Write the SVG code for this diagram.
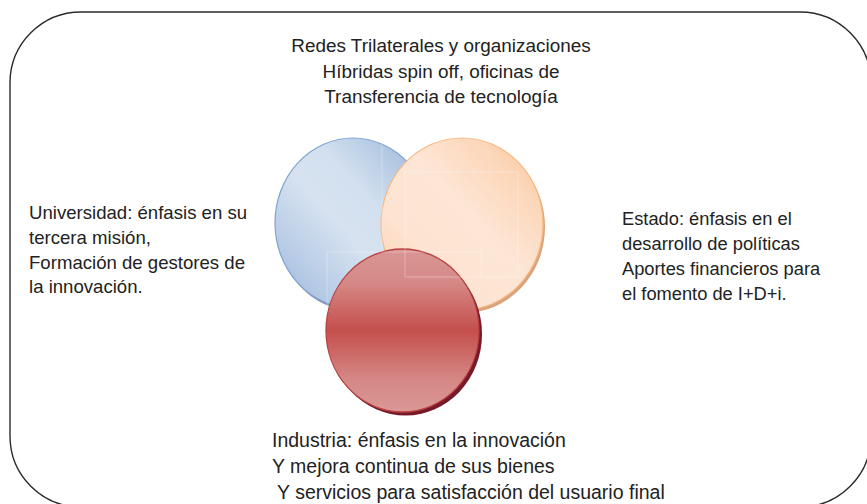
<svg xmlns="http://www.w3.org/2000/svg" width="867" height="504" viewBox="0 0 867 504">
<defs>
<linearGradient id="gBlue" x1="0" y1="1" x2="1" y2="0">
<stop offset="0" stop-color="#97b4d9"/>
<stop offset="0.22" stop-color="#b9cde6"/>
<stop offset="0.45" stop-color="#d6e2f0"/>
<stop offset="0.62" stop-color="#d3e0ef"/>
<stop offset="0.8" stop-color="#b5cbe4"/>
<stop offset="1" stop-color="#94b3d8"/>
</linearGradient>
<linearGradient id="gOrange" x1="0" y1="1" x2="1" y2="0">
<stop offset="0" stop-color="#fbcfae"/>
<stop offset="0.3" stop-color="#fde3d1"/>
<stop offset="0.55" stop-color="#fde6d6"/>
<stop offset="0.8" stop-color="#fcd6b8"/>
<stop offset="1" stop-color="#f9c193"/>
</linearGradient>
<linearGradient id="gRed" x1="0" y1="0" x2="0" y2="1">
<stop offset="0" stop-color="#d99694"/>
<stop offset="0.2" stop-color="#d58a88"/>
<stop offset="0.5" stop-color="#c44f4c"/>
<stop offset="0.8" stop-color="#d58886"/>
<stop offset="1" stop-color="#da9896"/>
</linearGradient>
<style>
.lbl{font-family:"Liberation Sans",Arial,sans-serif;font-size:18.3px;fill:#222222}
.top{font-size:18.9px}
.left{font-size:18.6px}
.bottom{font-size:19.5px}
.box{fill:none;stroke:#ffffff;stroke-opacity:0.3;stroke-width:1}
</style>
</defs>
<rect x="10" y="12" width="861" height="495" rx="71" ry="71" fill="#ffffff" stroke="#2b2b2b" stroke-width="1.4"/>
<g id="universidad">
<ellipse cx="355" cy="226" rx="78" ry="85" fill="#8f93bb"/>
<ellipse cx="353" cy="223" rx="78" ry="85" fill="url(#gBlue)" stroke="#7fa3d1" stroke-width="1.2"/>
</g>
<g id="estado">
<ellipse cx="464" cy="227" rx="81" ry="86" fill="#d9a47c"/>
<ellipse cx="462" cy="224" rx="81" ry="86" fill="url(#gOrange)" stroke="#f8b985" stroke-width="1.2"/>
</g>
<g id="industria">
<ellipse cx="405.5" cy="334" rx="76.5" ry="81.5" fill="#761a2a"/>
<ellipse cx="402.5" cy="330.5" rx="76.5" ry="81.5" fill="url(#gRed)" stroke="#b9413f" stroke-width="1.3"/>
</g>
<g id="textboxes">
<path class="box" d="M382 138 V252"/>
<rect class="box" x="405" y="172" width="113" height="105"/>
<path class="box" d="M327 312 V252 H481 V277"/>
</g>
<g id="label-redes" class="lbl top">
<text x="441" y="52" text-anchor="middle">Redes Trilaterales y organizaciones</text>
<text x="441" y="77.5" text-anchor="middle">Híbridas spin off, oficinas de</text>
<text x="441" y="103" text-anchor="middle">Transferencia de tecnología</text>
</g>
<g id="label-universidad" class="lbl left">
<text x="29" y="219">Universidad: énfasis en su</text>
<text x="29" y="244">tercera misión,</text>
<text x="29" y="268.5">Formación de gestores de</text>
<text x="29" y="293">la innovación.</text>
</g>
<g id="label-estado" class="lbl">
<text x="622" y="225">Estado: énfasis en el</text>
<text x="622" y="250">desarrollo de políticas</text>
<text x="622" y="275">Aportes financieros para</text>
<text x="622" y="300">el fomento de I+D+i.</text>
</g>
<g id="label-industria" class="lbl bottom">
<text x="272" y="447">Industria: énfasis en la innovación</text>
<text x="272" y="473">Y mejora continua de sus bienes</text>
<text x="272" y="499" xml:space="preserve"> Y servicios para satisfacción del usuario final</text>
</g>
<g id="connectors"/>
</svg>
